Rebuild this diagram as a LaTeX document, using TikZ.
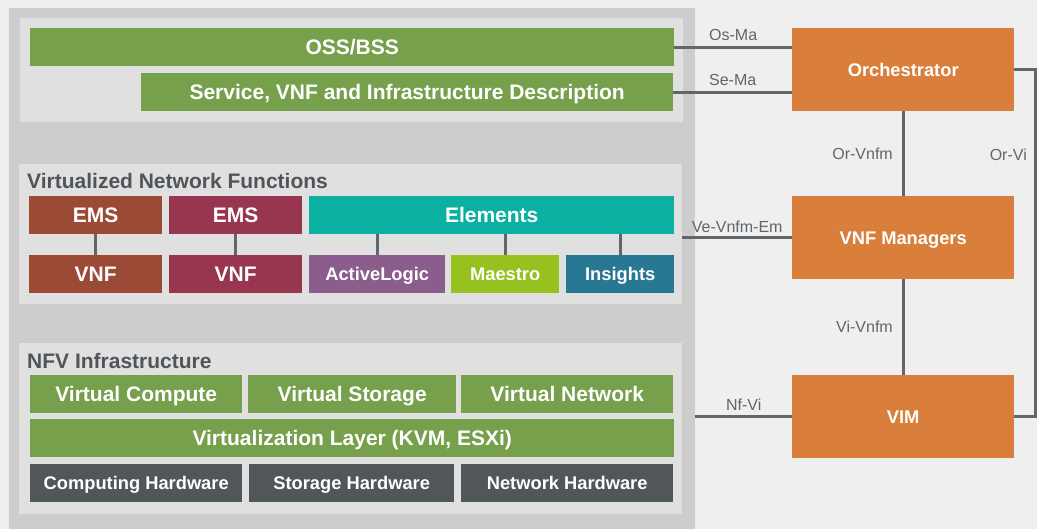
\documentclass[tikz,border=0pt]{standalone}
\usepackage{fontspec}
\setmainfont{Liberation Sans}
\usetikzlibrary{positioning}

% colours
\definecolor{canvas}{HTML}{EFEFEF}
\definecolor{panelOuter}{HTML}{CDCDCD}
\definecolor{panelInner}{HTML}{E0E0E0}
\definecolor{leaf}{HTML}{76A04B}
\definecolor{rust}{HTML}{9B4A35}
\definecolor{wine}{HTML}{98354F}
\definecolor{elemTeal}{HTML}{0BB0A0}
\definecolor{plum}{HTML}{8B5D8D}
\definecolor{maestroLime}{HTML}{97C11F}
\definecolor{ocean}{HTML}{287893}
\definecolor{slate}{HTML}{515659}
\definecolor{mano}{HTML}{D97F3B}
\definecolor{wire}{HTML}{60666A}
\definecolor{titleGray}{HTML}{50555A}

\begin{document}
\begin{tikzpicture}[x=1pt, y=-1pt,
	blk/.style={rectangle, fill=#1, text=white, inner sep=0pt, anchor=north west,
		font=\bfseries\fontsize{21}{21}\selectfont, text height=15pt, text depth=0pt},
	sml/.style={font=\bfseries\fontsize{18.3}{18.3}\selectfont, text height=13pt},
	wh/.style 2 args={minimum width=#1pt, minimum height=#2pt},
	panel/.style={rectangle, fill=#1, inner sep=0pt, anchor=north west},
	ttl/.style={anchor=base west, inner sep=0pt, text=titleGray,
		font=\bfseries\fontsize{21}{21}\selectfont},
	link/.style={draw=wire, line width=2.8pt},
	lbl/.style={text=wire, inner sep=0pt, font=\fontsize{16}{16}\selectfont}]
	
	% Background and panels
	\fill[canvas] (0,0) rectangle (1037,529);
	\node[panel=panelOuter, wh={686}{521}] (stack) at (9,8) {};
	\node[panel=panelInner, wh={663}{104}] (mgmt) at (20,18) {};
	\node[panel=panelInner, wh={663}{140}] (vnfs) at (19,164) {};
	\node[panel=panelInner, wh={663}{171}] (nfvi) at (19,343) {};
	
	% Management layer
	\node[blk=leaf, wh={644}{38}] (oss) at (30,28) {OSS/BSS};
	\node[blk=leaf, wh={532}{38}] (desc) at (141,73) {Service, VNF and Infrastructure Description};
	
	% Virtualized network functions
	\node[ttl] (vnfTitle) at (27,189) {Virtualized Network Functions};
	\node[blk=rust, wh={133}{38}] (ems1) at (29,196) {EMS};
	\node[blk=wine, wh={133}{38}] (ems2) at (169,196) {EMS};
	\node[blk=elemTeal, wh={365}{38}] (elem) at (309,196) {Elements};
	\node[blk=rust, wh={133}{38}] (vnf1) at (29,255) {VNF};
	\node[blk=wine, wh={133}{38}] (vnf2) at (169,255) {VNF};
	\node[blk=plum, sml, wh={136}{38}] (alog) at (309,255) {ActiveLogic};
	\node[blk=maestroLime, sml, wh={108}{38}] (maes) at (451,255) {Maestro};
	\node[blk=ocean, sml, wh={108}{38}] (insi) at (566,255) {Insights};
	
	\draw[link] (ems1) -- (vnf1);
	\draw[link] (ems2) -- (vnf2);
	\foreach \n in {alog, maes, insi} {
		\draw[link] (\n.north) -- (\n.north |- elem.south);
	}
	
	% NFV infrastructure
	\node[ttl] (nfviTitle) at (27,368) {NFV Infrastructure};
	\node[blk=leaf, wh={212}{38}] (vcomp) at (30,375) {Virtual Compute};
	\node[blk=leaf, wh={208}{38}] (vstor) at (248,375) {Virtual Storage};
	\node[blk=leaf, wh={212}{38}] (vnet) at (461,375) {Virtual Network};
	\node[blk=leaf, wh={644}{38}] (vlay) at (30,419) {Virtualization Layer (KVM, ESXi)};
	\node[blk=slate, sml, wh={212}{38}] (chw) at (30,464) {Computing Hardware};
	\node[blk=slate, sml, wh={205}{38}] (shw) at (249,464) {Storage Hardware};
	\node[blk=slate, sml, wh={212}{38}] (nhw) at (461,464) {Network Hardware};
	
	% MANO side
	\node[blk=mano, sml, wh={222}{83}] (orch) at (792,28) {Orchestrator};
	\node[blk=mano, sml, wh={222}{83}] (vnfm) at (792,196) {VNF Managers};
	\node[blk=mano, sml, wh={222}{83}] (vim) at (792,375) {VIM};
	
	% Reference points
	\draw[link] (oss.east) -- (oss.east -| orch.west) node[midway, above=5pt, lbl] {Os-Ma};
	\draw[link] (desc.east) -- (desc.east -| orch.west) node[midway, above=5pt, lbl] {Se-Ma};
	\draw[link] (vnfs.east |- vnfm.west) -- (vnfm.west) node[midway, above=4pt, lbl] {Ve-Vnfm-Em};
	\draw[link] (stack.east |- vim.west) -- (vim.west) node[midway, above=5pt, lbl] {Nf-Vi};
	\draw[link] (orch) -- (vnfm) node[midway, left=9pt, lbl] {Or-Vnfm};
	\draw[link] (vnfm) -- (vim) node[midway, left=9pt, lbl] {Vi-Vnfm};
	\draw[link] (orch.east) -- ++(21,0) coordinate (orviTop) |- (vim.east);
	\node[lbl, anchor=east] (orviLbl) at (1027,155) {Or-Vi};
\end{tikzpicture}
\end{document}
